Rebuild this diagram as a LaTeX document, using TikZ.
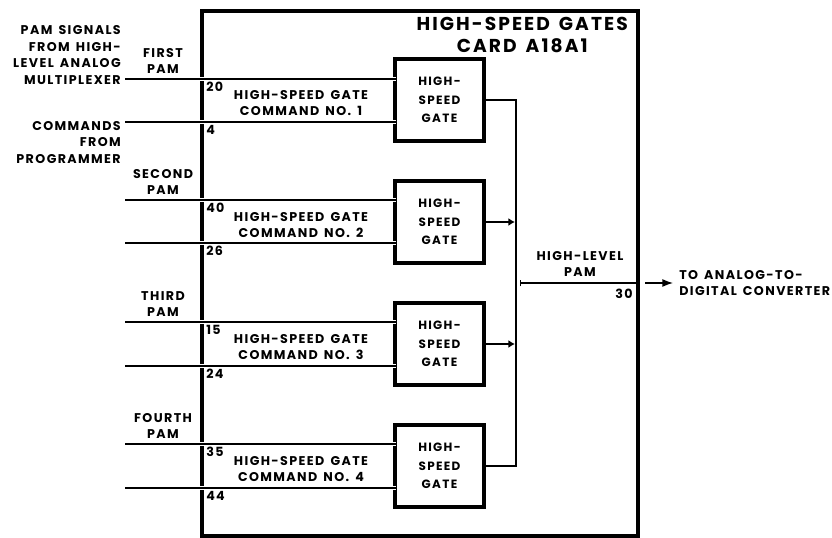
\documentclass[tikz,border=0pt]{standalone}
\usepackage{fontspec}
\setmainfont{Poppins}[LetterSpace=11, WordSpace=1.5]
\usepackage{tikz}
\usetikzlibrary{arrows.meta, positioning, calc}

\begin{document}
\begin{tikzpicture}[
    x=0.75pt, y=-0.75pt,
    every node/.style={font=\bfseries\fontsize{9.5}{12.5}\selectfont, inner sep=0pt},
    card/.style={rectangle, draw, line width=3pt, minimum width=327pt, minimum height=393.75pt},
    gate/.style={rectangle, draw, line width=3pt, minimum width=66.75pt, minimum height=61.5pt, align=center, font=\bfseries\fontsize{9}{14}\selectfont},
    cardtitle/.style={align=center, font=\bfseries\fontsize{14}{16.5}\selectfont},
    lbl/.style={align=center},
    cmd/.style={align=center},
    pinno/.style={anchor=north west},
    wire/.style={line width=0.9pt, preaction={draw=white, line width=3.5pt}},
    bus/.style={line width=1pt},
    tap/.style={line width=1pt, -{Latex[length=5pt,width=6pt]}},
    arrow/.style={-{Latex[length=8pt,width=6pt]}, line width=1pt}
]
\useasboundingbox (0,0) rectangle (832,538);
\node[card] (card) at (420,273.5) {};
\node[cardtitle, anchor=north east] (title) at ($(card.north east)+(-12,8)$) {HIGH-SPEED GATES\\CARD A18A1};

\node[gate] (g1) at (439.5,100) {HIGH-\\SPEED\\GATE};
\node[gate, below=27pt of g1] (g2) {HIGH-\\SPEED\\GATE};
\node[gate, below=27pt of g2] (g3) {HIGH-\\SPEED\\GATE};
\node[gate, below=27pt of g3] (g4) {HIGH-\\SPEED\\GATE};

\coordinate (p1) at (125,79);
\coordinate (c1) at (125,122);
\coordinate (p2) at (125,200);
\coordinate (c2) at (125,243);
\coordinate (p3) at (125,322);
\coordinate (c3) at (125,366);
\coordinate (p4) at (125,444);
\coordinate (c4) at (125,488);

\draw[wire] (p1) -- ($(p1 -| g1.west)+(3,0)$);
\draw[wire] (c1) -- ($(c1 -| g1.west)+(3,0)$);
\draw[wire] (p2) -- ($(p2 -| g2.west)+(3,0)$);
\draw[wire] (c2) -- ($(c2 -| g2.west)+(3,0)$);
\draw[wire] (p3) -- ($(p3 -| g3.west)+(3,0)$);
\draw[wire] (c3) -- ($(c3 -| g3.west)+(3,0)$);
\draw[wire] (p4) -- ($(p4 -| g4.west)+(3,0)$);
\draw[wire] (c4) -- ($(c4 -| g4.west)+(3,0)$);

\node[pinno] (n20) at ($(p1 -| card.west)+(6,3)$) {20};
\node[pinno] (n4) at ($(c1 -| card.west)+(6,3)$) {4};
\node[pinno] (n40) at ($(p2 -| card.west)+(6,3)$) {40};
\node[pinno] (n26) at ($(c2 -| card.west)+(6,3)$) {26};
\node[pinno] (n15) at ($(p3 -| card.west)+(6,3)$) {15};
\node[pinno] (n24) at ($(c3 -| card.west)+(6,3)$) {24};
\node[pinno] (n35) at ($(p4 -| card.west)+(6,3)$) {35};
\node[pinno] (n44) at ($(c4 -| card.west)+(6,3)$) {44};

\node[cmd] (k1) at ($(g1.west)+(-92,3)$) {HIGH-SPEED GATE\\COMMAND NO. 1};
\node[cmd] (k2) at ($(g2.west)+(-92,3)$) {HIGH-SPEED GATE\\COMMAND NO. 2};
\node[cmd] (k3) at ($(g3.west)+(-92,3)$) {HIGH-SPEED GATE\\COMMAND NO. 3};
\node[cmd] (k4) at ($(g4.west)+(-92,3)$) {HIGH-SPEED GATE\\COMMAND NO. 4};

\node[lbl, anchor=south] (pam1) at ($(p1)+(38,-5)$) {FIRST\\PAM};
\node[lbl, anchor=south] (pam2) at ($(p2)+(38,-5)$) {SECOND\\PAM};
\node[lbl, anchor=south] (pam3) at ($(p3)+(38,-5)$) {THIRD\\PAM};
\node[lbl, anchor=south] (pam4) at ($(p4)+(38,-5)$) {FOURTH\\PAM};
\node[lbl, align=right, anchor=south east] (src) at ($(p1)+(-4,6)$) {PAM SIGNALS\\FROM HIGH-\\LEVEL ANALOG\\MULTIPLEXER};
\node[lbl, align=right, anchor=north east] (prog) at ($(c1)+(-4,-1)$) {COMMANDS\\FROM\\PROGRAMMER};

\coordinate (b1) at ($(g1.east)+(30,0)$);
\coordinate (b4) at (b1 |- g4.east);
\draw[bus] (g1.east) -- (b1) -- (b4) -- (g4.east);
\draw[tap] (g2.east) -- ($(b1 |- g2.east)+(-1,0)$);
\draw[tap] (g3.east) -- ($(b1 |- g3.east)+(-1,0)$);

\coordinate (hl) at ($(b1)+(4,183)$);
\draw[bus, {Bar[width=5pt]}-] (hl) -- (hl -| card.east);
\node[lbl, anchor=south] (hlpam) at ($(hl)+(60,-6)$) {HIGH-LEVEL\\PAM};
\node[pinno, anchor=north east] (n30) at ($(hl -| card.east)+(-7,6)$) {30};

\node[lbl, align=left, anchor=west] (adc) at ($(hl -| card.east)+(39,0)$) {TO ANALOG-TO-\\DIGITAL CONVERTER};
\draw[arrow] ($(hl -| card.east)+(5,0)$) -- ($(adc.west)+(-6,0)$);
\end{tikzpicture}
\end{document}
